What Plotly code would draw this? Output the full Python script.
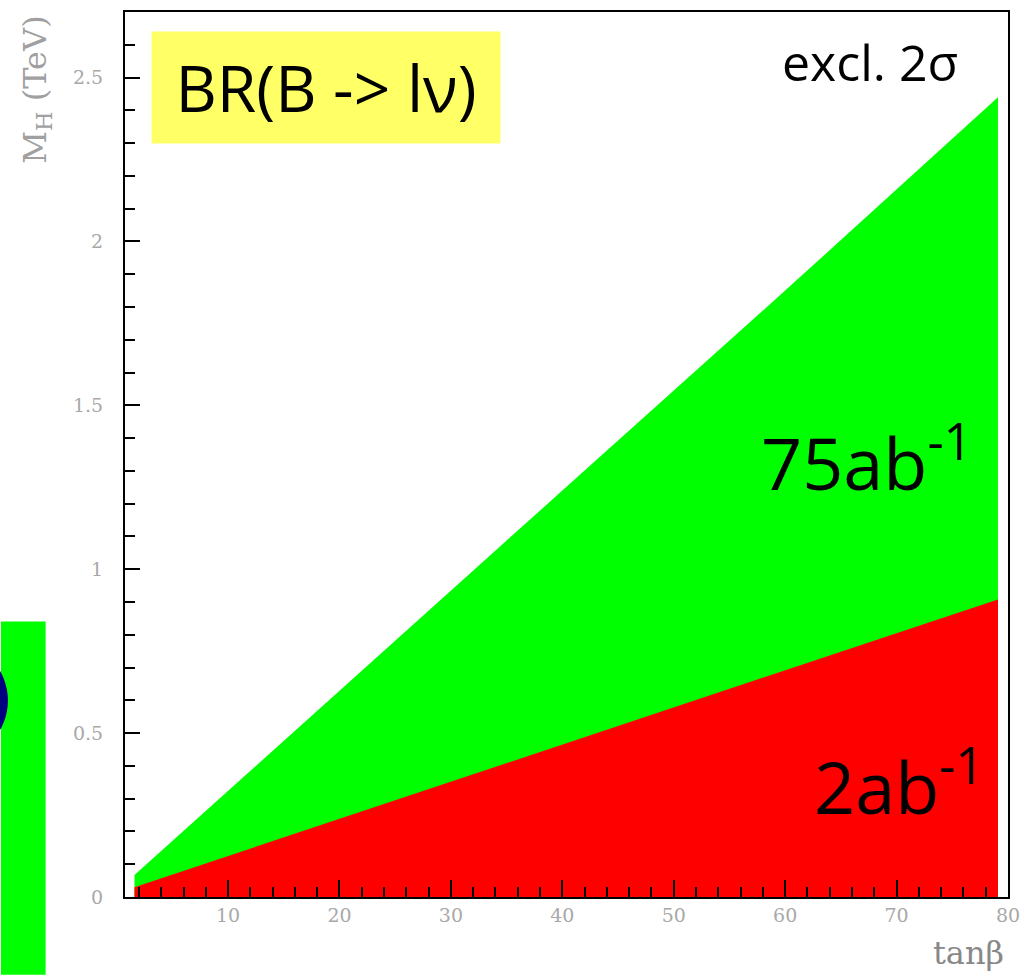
import plotly.graph_objects as go

# ---- data ----
tanb = [1.6, 20, 40, 60, 79.1]
m_75ab = [0.067, 0.63, 1.24, 1.85, 2.44]      # upper edge of green region (75 ab^-1)
m_2ab = [0.03, 0.238, 0.465, 0.692, 0.908]    # upper edge of red region (2 ab^-1)

x_ticks = [10, 20, 30, 40, 50, 60, 70, 80]
y_ticks = [0, 0.5, 1, 1.5, 2, 2.5]
y_ticklabels = ["0", "0.5", "1", "1.5", "2", "2.5"]

W, H = 1030, 975
L, R, T, B = 125, 15, 10, 78
PW, PH = W - L - R, H - T - B


def px(xp):
    return (xp - L) / PW


def py(yp):
    return (H - B - yp) / PH


fig = go.Figure()
fig.add_trace(go.Scatter(x=tanb, y=m_75ab, mode="lines", line=dict(width=0),
                         fill="tozeroy", fillcolor="#00ff00", hoverinfo="skip"))
fig.add_trace(go.Scatter(x=tanb, y=m_2ab, mode="lines", line=dict(width=0),
                         fill="tozeroy", fillcolor="#ff0000", hoverinfo="skip"))

tickfont = dict(family="DejaVu Serif", size=19, color="#a8a8a8")
fig.update_xaxes(range=[0.75, 80], tickvals=x_ticks, ticks="inside", ticklen=17,
                 tickwidth=2, tickcolor="black", showline=True, linecolor="black",
                 linewidth=2, mirror=True, showgrid=False, zeroline=False,
                 tickfont=tickfont,
                 minor=dict(dtick=2, tick0=0, ticks="inside", ticklen=10,
                            tickwidth=2, tickcolor="black", showgrid=False))
fig.update_yaxes(range=[0, 2.70], tickvals=y_ticks, ticktext=y_ticklabels,
                 ticks="inside", ticklen=15, tickwidth=2, tickcolor="black",
                 showline=True, linecolor="black", linewidth=2, mirror=True,
                 showgrid=False, zeroline=False, tickfont=tickfont,
                 ticklabelstandoff=16,
                 minor=dict(dtick=0.1, tick0=0, ticks="inside", ticklen=10,
                            tickwidth=2, tickcolor="black", showgrid=False))

txtfont = "Open Sans"


def ann(text, xp, yp, size, family=txtfont, color="black", xanchor="center",
        yanchor="middle", **kw):
    return dict(text=text, x=px(xp), y=py(yp), xref="paper", yref="paper",
                xanchor=xanchor, yanchor=yanchor, showarrow=False,
                font=dict(family=family, size=size, color=color), **kw)


annotations = [
    ann("BR(B -> l\u03bd)", 328, 86, 64, bgcolor="#ffff66", width=346, height=109),
    ann("excl. 2\u03c3", 876, 60, 50),
    ann("75ab<sup>-1</sup>", 872, 458, 72),
    ann("2ab<sup>-1</sup>", 905, 782, 72),
    ann("M<sub>H</sub> (TeV)", 36, 12, 32, family="DejaVu Serif", color="#a0a0a0",
        yanchor="top", textangle=-90),
    ann("tan\u03b2", 1013, 953, 32, family="DejaVu Serif", color="#888888",
        xanchor="right"),
]

shapes = [
    dict(type="rect", xref="paper", yref="paper", x0=px(0), x1=px(45),
         y0=py(975), y1=py(621), fillcolor="#00ff00", line=dict(width=0), layer="above"),
    dict(type="circle", xref="paper", yref="paper", x0=px(-111), x1=px(7),
         y0=py(759), y1=py(641), fillcolor="#000080", line=dict(width=0), layer="above"),
]

fig.update_layout(width=W, height=H, margin=dict(l=L, r=R, t=T, b=B),
                  autosize=False, plot_bgcolor="white", paper_bgcolor="white",
                  showlegend=False, annotations=annotations, shapes=shapes)

post = (
    "document.body.style.margin='0px';"
    "document.body.style.overflow='hidden';"
    "var gd=document.getElementById('{plot_id}');"
    "Plotly.relayout(gd,{width:%d,height:%d});" % (W, H)
)
fig.write_html("out.html", config={"displayModeBar": False, "responsive": False},
               post_script=post)
